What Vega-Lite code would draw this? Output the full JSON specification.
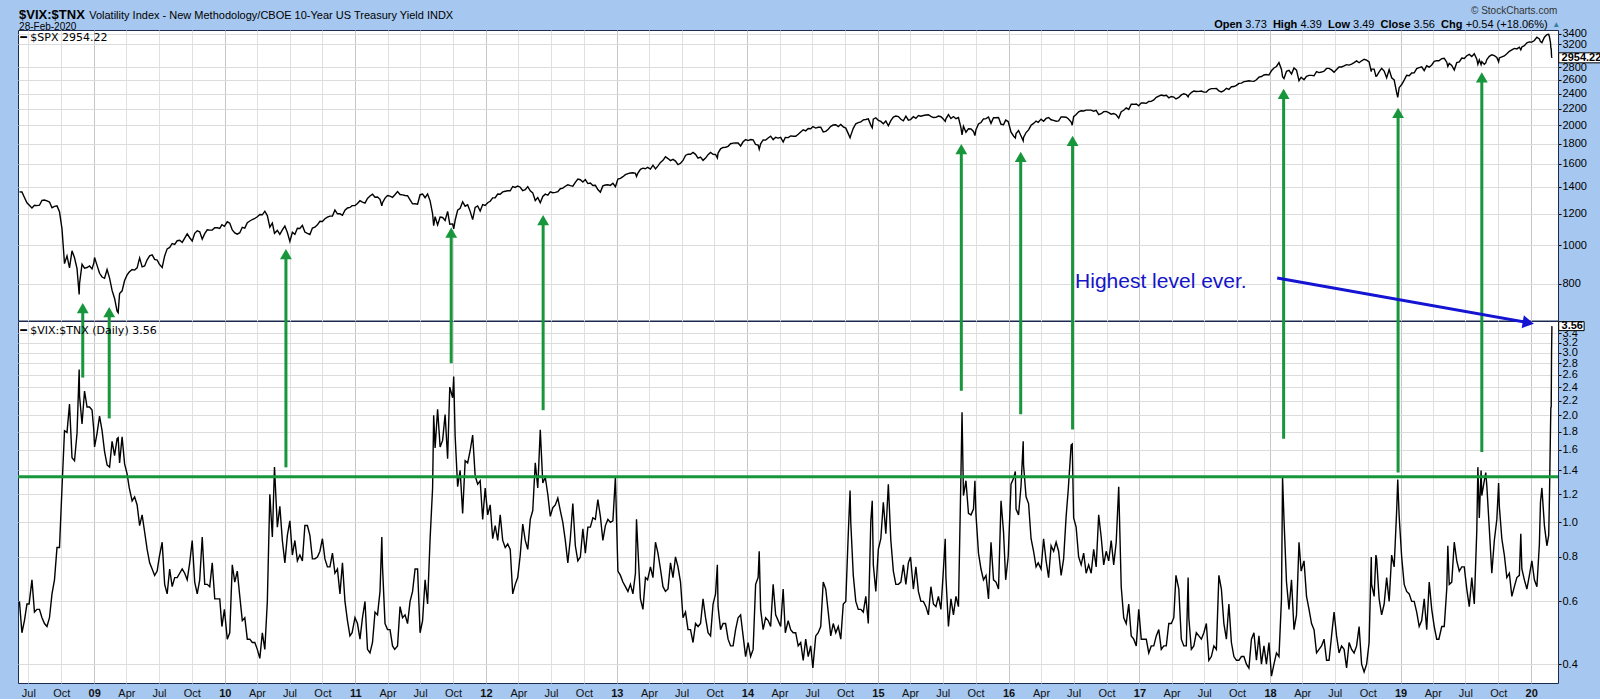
{
"$schema": "https://vega.github.io/schema/vega-lite/v6.json",
"background": "#A6C8F0",
"padding": {"left": 16, "top": 5, "right": 0, "bottom": 0},
"spacing": 0,
"bounds": "flush",
"config": {
  "view": {"stroke": "#1c2a50", "strokeWidth": 1, "fill": "white"},
  "axis": {"labelFont": "Liberation Sans", "labelFontSize": 11, "labelColor": "#000", "gridColor": "#dcdcdc", "gridWidth": 1, "domain": false, "tickColor": "#000"},
  "text": {"font": "Liberation Sans"},
  "concat": {"spacing": 0}
},
"datasets": {
"main": [
{"d":"2008-06-06","s":1361,"r":0.60},{"d":"2008-06-13","s":1360,"r":0.49},{"d":"2008-06-20","s":1318,"r":0.53},{"d":"2008-06-27","s":1278,"r":0.59},
{"d":"2008-07-03","s":1262,"r":0.59},{"d":"2008-07-11","s":1240,"r":0.69},{"d":"2008-07-18","s":1260,"r":0.56},{"d":"2008-07-25","s":1257,"r":0.57},
{"d":"2008-08-01","s":1260,"r":0.57},{"d":"2008-08-08","s":1296,"r":0.54},{"d":"2008-08-15","s":1298,"r":0.52},{"d":"2008-08-22","s":1292,"r":0.51},{"d":"2008-08-29","s":1283,"r":0.54},
{"d":"2008-09-05","s":1242,"r":0.63},{"d":"2008-09-12","s":1252,"r":0.69},{"d":"2008-09-19","s":1255,"r":0.85},{"d":"2008-09-26","s":1213,"r":0.85},
{"d":"2008-10-03","s":1099,"r":1.25},{"d":"2008-10-10","s":899,"r":1.81},{"d":"2008-10-17","s":940,"r":1.79},{"d":"2008-10-24","s":877,"r":2.15},{"d":"2008-10-31","s":968,"r":1.52},
{"d":"2008-11-07","s":930,"r":1.49},{"d":"2008-11-14","s":873,"r":1.78},{"d":"2008-11-20","s":752,"r":2.69},{"d":"2008-11-21","s":800,"r":2.27},{"d":"2008-11-28","s":896,"r":1.89},
{"d":"2008-12-05","s":876,"r":2.34},{"d":"2008-12-12","s":879,"r":2.11},{"d":"2008-12-19","s":887,"r":2.11},{"d":"2008-12-26","s":872,"r":2.07},{"d":"2008-12-31","s":903,"r":1.81},
{"d":"2009-01-02","s":931,"r":1.63},{"d":"2009-01-09","s":890,"r":1.78},{"d":"2009-01-16","s":850,"r":1.99},{"d":"2009-01-23","s":832,"r":1.81},{"d":"2009-01-30","s":826,"r":1.58},
{"d":"2009-02-06","s":869,"r":1.45},{"d":"2009-02-13","s":827,"r":1.43},{"d":"2009-02-20","s":770,"r":1.69},{"d":"2009-02-27","s":735,"r":1.54},
{"d":"2009-03-06","s":683,"r":1.72},{"d":"2009-03-09","s":677,"r":1.73},{"d":"2009-03-13","s":756,"r":1.47},{"d":"2009-03-20","s":768,"r":1.74},{"d":"2009-03-27","s":815,"r":1.46},
{"d":"2009-04-03","s":842,"r":1.37},{"d":"2009-04-09","s":856,"r":1.25},{"d":"2009-04-17","s":869,"r":1.15},{"d":"2009-04-24","s":866,"r":1.18},
{"d":"2009-05-01","s":877,"r":1.12},{"d":"2009-05-08","s":929,"r":0.98},{"d":"2009-05-15","s":882,"r":1.05},{"d":"2009-05-22","s":887,"r":0.94},{"d":"2009-05-29","s":919,"r":0.84},
{"d":"2009-06-05","s":940,"r":0.77},{"d":"2009-06-12","s":946,"r":0.74},{"d":"2009-06-19","s":921,"r":0.71},{"d":"2009-06-26","s":918,"r":0.73},
{"d":"2009-07-02","s":896,"r":0.80},{"d":"2009-07-10","s":879,"r":0.88},{"d":"2009-07-17","s":940,"r":0.67},{"d":"2009-07-24","s":979,"r":0.63},{"d":"2009-07-31","s":987,"r":0.74},
{"d":"2009-08-07","s":1010,"r":0.66},{"d":"2009-08-14","s":1005,"r":0.70},{"d":"2009-08-21","s":1026,"r":0.70},{"d":"2009-08-28","s":1029,"r":0.72},
{"d":"2009-09-04","s":1016,"r":0.74},{"d":"2009-09-11","s":1042,"r":0.72},{"d":"2009-09-18","s":1068,"r":0.69},{"d":"2009-09-25","s":1044,"r":0.77},
{"d":"2009-10-02","s":1025,"r":0.89},{"d":"2009-10-09","s":1071,"r":0.68},{"d":"2009-10-16","s":1087,"r":0.63},{"d":"2009-10-23","s":1080,"r":0.69},{"d":"2009-10-30","s":1036,"r":0.91},
{"d":"2009-11-06","s":1069,"r":0.67},{"d":"2009-11-13","s":1093,"r":0.67},{"d":"2009-11-20","s":1091,"r":0.66},{"d":"2009-11-27","s":1091,"r":0.77},
{"d":"2009-12-04","s":1106,"r":0.61},{"d":"2009-12-11","s":1106,"r":0.61},{"d":"2009-12-18","s":1102,"r":0.61},{"d":"2009-12-24","s":1126,"r":0.51},{"d":"2009-12-31","s":1115,"r":0.57},
{"d":"2010-01-08","s":1145,"r":0.47},{"d":"2010-01-15","s":1136,"r":0.49},{"d":"2010-01-22","s":1092,"r":0.76},{"d":"2010-01-29","s":1074,"r":0.68},
{"d":"2010-02-05","s":1066,"r":0.73},{"d":"2010-02-12","s":1075,"r":0.62},{"d":"2010-02-19","s":1109,"r":0.53},{"d":"2010-02-26","s":1104,"r":0.54},
{"d":"2010-03-05","s":1139,"r":0.47},{"d":"2010-03-12","s":1150,"r":0.47},{"d":"2010-03-19","s":1160,"r":0.46},{"d":"2010-03-26","s":1167,"r":0.46},
{"d":"2010-04-02","s":1179,"r":0.44},{"d":"2010-04-09","s":1194,"r":0.415},{"d":"2010-04-16","s":1192,"r":0.49},{"d":"2010-04-23","s":1217,"r":0.44},{"d":"2010-04-30","s":1187,"r":0.60},
{"d":"2010-05-07","s":1110,"r":1.20},{"d":"2010-05-14","s":1136,"r":0.91},{"d":"2010-05-20","s":1071,"r":1.43},{"d":"2010-05-28","s":1089,"r":0.97},
{"d":"2010-06-04","s":1065,"r":1.11},{"d":"2010-06-11","s":1092,"r":0.89},{"d":"2010-06-18","s":1117,"r":0.77},{"d":"2010-06-25","s":1076,"r":0.92},
{"d":"2010-07-02","s":1022,"r":1.01},{"d":"2010-07-09","s":1078,"r":0.81},{"d":"2010-07-16","s":1065,"r":0.89},{"d":"2010-07-23","s":1103,"r":0.78},{"d":"2010-07-30","s":1101,"r":0.81},
{"d":"2010-08-06","s":1121,"r":0.78},{"d":"2010-08-13","s":1079,"r":0.98},{"d":"2010-08-20","s":1071,"r":0.98},{"d":"2010-08-27","s":1064,"r":0.92},
{"d":"2010-09-03","s":1104,"r":0.79},{"d":"2010-09-10","s":1110,"r":0.79},{"d":"2010-09-17","s":1125,"r":0.80},{"d":"2010-09-24","s":1148,"r":0.83},
{"d":"2010-10-01","s":1147,"r":0.90},{"d":"2010-10-08","s":1165,"r":0.79},{"d":"2010-10-15","s":1176,"r":0.75},{"d":"2010-10-22","s":1183,"r":0.75},{"d":"2010-10-29","s":1183,"r":0.82},
{"d":"2010-11-05","s":1225,"r":0.72},{"d":"2010-11-12","s":1199,"r":0.74},{"d":"2010-11-19","s":1199,"r":0.63},{"d":"2010-11-26","s":1189,"r":0.77},
{"d":"2010-12-03","s":1224,"r":0.60},{"d":"2010-12-10","s":1240,"r":0.53},{"d":"2010-12-17","s":1244,"r":0.48},{"d":"2010-12-23","s":1257,"r":0.49},{"d":"2010-12-31","s":1258,"r":0.54},
{"d":"2011-01-07","s":1272,"r":0.52},{"d":"2011-01-14","s":1293,"r":0.47},{"d":"2011-01-21","s":1283,"r":0.54},{"d":"2011-01-28","s":1276,"r":0.60},
{"d":"2011-02-04","s":1310,"r":0.44},{"d":"2011-02-11","s":1329,"r":0.43},{"d":"2011-02-18","s":1343,"r":0.46},{"d":"2011-02-25","s":1320,"r":0.56},
{"d":"2011-03-04","s":1321,"r":0.55},{"d":"2011-03-11","s":1304,"r":0.64},{"d":"2011-03-16","s":1256,"r":0.91},{"d":"2011-03-18","s":1279,"r":0.75},{"d":"2011-03-25","s":1313,"r":0.52},
{"d":"2011-04-01","s":1332,"r":0.50},{"d":"2011-04-08","s":1328,"r":0.50},{"d":"2011-04-15","s":1319,"r":0.45},{"d":"2011-04-21","s":1337,"r":0.44},{"d":"2011-04-29","s":1363,"r":0.45},
{"d":"2011-05-06","s":1340,"r":0.58},{"d":"2011-05-13","s":1338,"r":0.54},{"d":"2011-05-20","s":1333,"r":0.55},{"d":"2011-05-27","s":1331,"r":0.52},
{"d":"2011-06-03","s":1300,"r":0.60},{"d":"2011-06-10","s":1270,"r":0.64},{"d":"2011-06-17","s":1271,"r":0.74},{"d":"2011-06-24","s":1268,"r":0.74},
{"d":"2011-07-01","s":1339,"r":0.49},{"d":"2011-07-08","s":1344,"r":0.53},{"d":"2011-07-15","s":1316,"r":0.69},{"d":"2011-07-22","s":1345,"r":0.59},{"d":"2011-07-29","s":1292,"r":0.90},
{"d":"2011-08-05","s":1199,"r":1.25},{"d":"2011-08-08","s":1119,"r":2.00},{"d":"2011-08-12","s":1179,"r":1.62},{"d":"2011-08-19","s":1124,"r":2.08},{"d":"2011-08-26","s":1177,"r":1.63},
{"d":"2011-09-02","s":1174,"r":1.70},{"d":"2011-09-09","s":1154,"r":2.01},{"d":"2011-09-16","s":1216,"r":1.51},{"d":"2011-09-22","s":1129,"r":2.40},{"d":"2011-09-30","s":1131,"r":2.24},
{"d":"2011-10-03","s":1099,"r":2.57},{"d":"2011-10-07","s":1155,"r":1.75},{"d":"2011-10-14","s":1224,"r":1.26},{"d":"2011-10-21","s":1238,"r":1.40},{"d":"2011-10-28","s":1285,"r":1.06},
{"d":"2011-11-04","s":1253,"r":1.49},{"d":"2011-11-11","s":1263,"r":1.47},{"d":"2011-11-18","s":1216,"r":1.59},{"d":"2011-11-25","s":1159,"r":1.76},
{"d":"2011-12-02","s":1244,"r":1.35},{"d":"2011-12-09","s":1255,"r":1.28},{"d":"2011-12-16","s":1219,"r":1.31},{"d":"2011-12-23","s":1265,"r":1.02},{"d":"2011-12-30","s":1258,"r":1.25},
{"d":"2012-01-06","s":1278,"r":1.05},{"d":"2012-01-13","s":1289,"r":1.12},{"d":"2012-01-20","s":1315,"r":0.90},{"d":"2012-01-27","s":1316,"r":0.98},
{"d":"2012-02-03","s":1344,"r":0.89},{"d":"2012-02-10","s":1342,"r":1.05},{"d":"2012-02-17","s":1361,"r":0.89},{"d":"2012-02-24","s":1366,"r":0.85},
{"d":"2012-03-02","s":1370,"r":0.87},{"d":"2012-03-09","s":1370,"r":0.84},{"d":"2012-03-16","s":1404,"r":0.63},{"d":"2012-03-23","s":1397,"r":0.67},{"d":"2012-03-30","s":1408,"r":0.70},
{"d":"2012-04-06","s":1398,"r":0.81},{"d":"2012-04-13","s":1370,"r":0.99},{"d":"2012-04-20","s":1378,"r":0.89},{"d":"2012-04-27","s":1403,"r":0.84},
{"d":"2012-05-04","s":1369,"r":1.02},{"d":"2012-05-11","s":1353,"r":1.08},{"d":"2012-05-18","s":1295,"r":1.47},{"d":"2012-05-25","s":1318,"r":1.25},
{"d":"2012-06-01","s":1278,"r":1.82},{"d":"2012-06-08","s":1325,"r":1.29},{"d":"2012-06-15","s":1343,"r":1.34},{"d":"2012-06-22","s":1335,"r":1.20},{"d":"2012-06-29","s":1362,"r":1.04},
{"d":"2012-07-06","s":1354,"r":1.10},{"d":"2012-07-13","s":1357,"r":1.12},{"d":"2012-07-20","s":1363,"r":1.17},{"d":"2012-07-27","s":1386,"r":1.08},
{"d":"2012-08-03","s":1391,"r":1.00},{"d":"2012-08-10","s":1406,"r":0.89},{"d":"2012-08-17","s":1418,"r":0.77},{"d":"2012-08-24","s":1411,"r":0.90},{"d":"2012-08-31","s":1407,"r":1.13},
{"d":"2012-09-07","s":1438,"r":0.86},{"d":"2012-09-14","s":1466,"r":0.78},{"d":"2012-09-21","s":1460,"r":0.80},{"d":"2012-09-28","s":1441,"r":0.96},
{"d":"2012-10-05","s":1461,"r":0.82},{"d":"2012-10-12","s":1428,"r":0.97},{"d":"2012-10-19","s":1433,"r":0.97},{"d":"2012-10-26","s":1412,"r":1.03},
{"d":"2012-11-02","s":1414,"r":1.02},{"d":"2012-11-09","s":1380,"r":1.16},{"d":"2012-11-16","s":1359,"r":1.04},{"d":"2012-11-23","s":1409,"r":0.89},{"d":"2012-11-30","s":1416,"r":0.98},
{"d":"2012-12-07","s":1418,"r":1.02},{"d":"2012-12-14","s":1413,"r":1.00},{"d":"2012-12-21","s":1430,"r":1.01},{"d":"2012-12-28","s":1402,"r":1.34},
{"d":"2013-01-04","s":1466,"r":0.73},{"d":"2013-01-11","s":1472,"r":0.71},{"d":"2013-01-18","s":1486,"r":0.68},{"d":"2013-01-25","s":1503,"r":0.66},
{"d":"2013-02-01","s":1513,"r":0.64},{"d":"2013-02-08","s":1518,"r":0.67},{"d":"2013-02-15","s":1520,"r":0.63},{"d":"2013-02-22","s":1515,"r":0.72},{"d":"2013-02-25","s":1488,"r":1.02},
{"d":"2013-03-01","s":1518,"r":0.84},{"d":"2013-03-08","s":1551,"r":0.61},{"d":"2013-03-15","s":1561,"r":0.57},{"d":"2013-03-22","s":1556,"r":0.70},{"d":"2013-03-28","s":1569,"r":0.69},
{"d":"2013-04-05","s":1553,"r":0.75},{"d":"2013-04-12","s":1588,"r":0.70},{"d":"2013-04-19","s":1555,"r":0.88},{"d":"2013-04-26","s":1582,"r":0.82},
{"d":"2013-05-03","s":1614,"r":0.74},{"d":"2013-05-10","s":1633,"r":0.66},{"d":"2013-05-17","s":1667,"r":0.64},{"d":"2013-05-24","s":1650,"r":0.65},{"d":"2013-05-31","s":1631,"r":0.77},
{"d":"2013-06-07","s":1643,"r":0.70},{"d":"2013-06-14","s":1626,"r":0.80},{"d":"2013-06-21","s":1593,"r":0.75},{"d":"2013-06-28","s":1606,"r":0.68},
{"d":"2013-07-05","s":1632,"r":0.54},{"d":"2013-07-12","s":1680,"r":0.56},{"d":"2013-07-19","s":1692,"r":0.50},{"d":"2013-07-26","s":1692,"r":0.50},
{"d":"2013-08-02","s":1710,"r":0.46},{"d":"2013-08-09","s":1691,"r":0.52},{"d":"2013-08-16","s":1655,"r":0.51},{"d":"2013-08-23","s":1664,"r":0.52},{"d":"2013-08-30","s":1633,"r":0.61},
{"d":"2013-09-06","s":1655,"r":0.54},{"d":"2013-09-13","s":1688,"r":0.49},{"d":"2013-09-20","s":1710,"r":0.48},{"d":"2013-09-27","s":1692,"r":0.59},
{"d":"2013-10-04","s":1690,"r":0.63},{"d":"2013-10-09","s":1656,"r":0.76},{"d":"2013-10-11","s":1703,"r":0.58},{"d":"2013-10-18","s":1745,"r":0.50},{"d":"2013-10-25","s":1759,"r":0.52},
{"d":"2013-11-01","s":1762,"r":0.52},{"d":"2013-11-08","s":1771,"r":0.47},{"d":"2013-11-15","s":1798,"r":0.45},{"d":"2013-11-22","s":1804,"r":0.45},{"d":"2013-11-29","s":1806,"r":0.50},
{"d":"2013-12-06","s":1805,"r":0.54},{"d":"2013-12-13","s":1775,"r":0.55},{"d":"2013-12-20","s":1818,"r":0.48},{"d":"2013-12-27","s":1841,"r":0.42},
{"d":"2014-01-03","s":1831,"r":0.46},{"d":"2014-01-10","s":1842,"r":0.42},{"d":"2014-01-17","s":1838,"r":0.44},{"d":"2014-01-24","s":1790,"r":0.67},{"d":"2014-01-31","s":1783,"r":0.70},
{"d":"2014-02-03","s":1742,"r":0.83},{"d":"2014-02-07","s":1797,"r":0.57},{"d":"2014-02-14","s":1838,"r":0.50},{"d":"2014-02-21","s":1836,"r":0.54},{"d":"2014-02-28","s":1859,"r":0.53},
{"d":"2014-03-07","s":1878,"r":0.51},{"d":"2014-03-14","s":1841,"r":0.67},{"d":"2014-03-21","s":1866,"r":0.55},{"d":"2014-03-28","s":1857,"r":0.53},
{"d":"2014-04-04","s":1865,"r":0.51},{"d":"2014-04-11","s":1816,"r":0.65},{"d":"2014-04-17","s":1864,"r":0.49},{"d":"2014-04-25","s":1863,"r":0.53},
{"d":"2014-05-02","s":1881,"r":0.50},{"d":"2014-05-09","s":1878,"r":0.49},{"d":"2014-05-16","s":1878,"r":0.49},{"d":"2014-05-23","s":1900,"r":0.45},{"d":"2014-05-30","s":1924,"r":0.46},
{"d":"2014-06-06","s":1949,"r":0.41},{"d":"2014-06-13","s":1937,"r":0.47},{"d":"2014-06-20","s":1963,"r":0.42},{"d":"2014-06-27","s":1961,"r":0.45},
{"d":"2014-07-03","s":1985,"r":0.39},{"d":"2014-07-11","s":1968,"r":0.48},{"d":"2014-07-18","s":1978,"r":0.49},{"d":"2014-07-25","s":1978,"r":0.51},
{"d":"2014-08-01","s":1925,"r":0.68},{"d":"2014-08-08","s":1931,"r":0.65},{"d":"2014-08-15","s":1955,"r":0.56},{"d":"2014-08-22","s":1988,"r":0.48},{"d":"2014-08-29","s":2003,"r":0.52},
{"d":"2014-09-05","s":2007,"r":0.49},{"d":"2014-09-12","s":1985,"r":0.51},{"d":"2014-09-19","s":2010,"r":0.47},{"d":"2014-09-26","s":1982,"r":0.59},
{"d":"2014-10-03","s":1968,"r":0.60},{"d":"2014-10-10","s":1906,"r":0.93},{"d":"2014-10-15","s":1862,"r":1.23},{"d":"2014-10-17","s":1887,"r":1.00},{"d":"2014-10-24","s":1965,"r":0.71},{"d":"2014-10-31","s":2018,"r":0.60},
{"d":"2014-11-07","s":2032,"r":0.57},{"d":"2014-11-14","s":2039,"r":0.57},{"d":"2014-11-21","s":2064,"r":0.56},{"d":"2014-11-28","s":2068,"r":0.62},
{"d":"2014-12-05","s":2075,"r":0.52},{"d":"2014-12-12","s":2002,"r":1.01},{"d":"2014-12-16","s":1972,"r":1.15},{"d":"2014-12-19","s":2071,"r":0.76},{"d":"2014-12-26","s":2089,"r":0.64},
{"d":"2015-01-02","s":2058,"r":0.84},{"d":"2015-01-09","s":2045,"r":0.90},{"d":"2015-01-16","s":2019,"r":1.14},{"d":"2015-01-23","s":2051,"r":0.93},{"d":"2015-01-30","s":1995,"r":1.28},
{"d":"2015-02-06","s":2055,"r":0.89},{"d":"2015-02-13","s":2097,"r":0.73},{"d":"2015-02-20","s":2110,"r":0.67},{"d":"2015-02-27","s":2104,"r":0.67},
{"d":"2015-03-06","s":2071,"r":0.68},{"d":"2015-03-13","s":2053,"r":0.76},{"d":"2015-03-20","s":2108,"r":0.67},{"d":"2015-03-27","s":2061,"r":0.77},
{"d":"2015-04-02","s":2067,"r":0.80},{"d":"2015-04-10","s":2102,"r":0.65},{"d":"2015-04-17","s":2081,"r":0.75},{"d":"2015-04-24","s":2117,"r":0.64},
{"d":"2015-05-01","s":2108,"r":0.60},{"d":"2015-05-08","s":2116,"r":0.60},{"d":"2015-05-15","s":2123,"r":0.58},{"d":"2015-05-22","s":2126,"r":0.55},{"d":"2015-05-29","s":2107,"r":0.66},
{"d":"2015-06-05","s":2092,"r":0.59},{"d":"2015-06-12","s":2094,"r":0.58},{"d":"2015-06-19","s":2110,"r":0.62},{"d":"2015-06-26","s":2102,"r":0.57},
{"d":"2015-07-02","s":2077,"r":0.71},{"d":"2015-07-08","s":2046,"r":0.90},{"d":"2015-07-10","s":2077,"r":0.70},{"d":"2015-07-17","s":2127,"r":0.51},{"d":"2015-07-24","s":2080,"r":0.61},{"d":"2015-07-31","s":2104,"r":0.55},
{"d":"2015-08-07","s":2078,"r":0.62},{"d":"2015-08-14","s":2092,"r":0.58},{"d":"2015-08-21","s":1971,"r":1.37},{"d":"2015-08-24","s":1893,"r":2.04},{"d":"2015-08-28","s":1989,"r":1.19},
{"d":"2015-09-04","s":1921,"r":1.31},{"d":"2015-09-11","s":1961,"r":1.06},{"d":"2015-09-18","s":1958,"r":1.05},{"d":"2015-09-25","s":1931,"r":1.09},{"d":"2015-09-29","s":1884,"r":1.31},
{"d":"2015-10-02","s":1951,"r":1.05},{"d":"2015-10-09","s":2015,"r":0.82},{"d":"2015-10-16","s":2033,"r":0.74},{"d":"2015-10-23","s":2075,"r":0.69},{"d":"2015-10-30","s":2079,"r":0.71},
{"d":"2015-11-06","s":2099,"r":0.61},{"d":"2015-11-13","s":2023,"r":0.88},{"d":"2015-11-20","s":2089,"r":0.69},{"d":"2015-11-27","s":2090,"r":0.68},
{"d":"2015-12-04","s":2092,"r":0.65},{"d":"2015-12-11","s":2012,"r":1.15},{"d":"2015-12-18","s":2006,"r":0.94},{"d":"2015-12-24","s":2061,"r":0.69},{"d":"2015-12-31","s":2044,"r":0.80},
{"d":"2016-01-08","s":1922,"r":1.28},{"d":"2016-01-15","s":1880,"r":1.33},{"d":"2016-01-20","s":1859,"r":1.39},{"d":"2016-01-22","s":1907,"r":1.09},{"d":"2016-01-29","s":1940,"r":1.05},
{"d":"2016-02-05","s":1880,"r":1.27},{"d":"2016-02-11","s":1829,"r":1.69},{"d":"2016-02-12","s":1865,"r":1.45},{"d":"2016-02-19","s":1918,"r":1.18},{"d":"2016-02-26","s":1948,"r":1.13},
{"d":"2016-03-04","s":2000,"r":0.90},{"d":"2016-03-11","s":2022,"r":0.83},{"d":"2016-03-18","s":2050,"r":0.75},{"d":"2016-03-24","s":2035,"r":0.77},
{"d":"2016-04-01","s":2073,"r":0.74},{"d":"2016-04-08","s":2048,"r":0.90},{"d":"2016-04-15","s":2081,"r":0.78},{"d":"2016-04-22","s":2092,"r":0.70},{"d":"2016-04-29","s":2065,"r":0.86},
{"d":"2016-05-06","s":2057,"r":0.83},{"d":"2016-05-13","s":2047,"r":0.88},{"d":"2016-05-20","s":2052,"r":0.83},{"d":"2016-05-27","s":2099,"r":0.71},
{"d":"2016-06-03","s":2099,"r":0.79},{"d":"2016-06-10","s":2096,"r":1.04},{"d":"2016-06-16","s":2077,"r":1.24},{"d":"2016-06-24","s":2037,"r":1.65},{"d":"2016-06-27","s":2001,"r":1.66},
{"d":"2016-07-01","s":2103,"r":1.03},{"d":"2016-07-08","s":2130,"r":0.97},{"d":"2016-07-15","s":2162,"r":0.80},{"d":"2016-07-22","s":2175,"r":0.76},{"d":"2016-07-29","s":2173,"r":0.82},
{"d":"2016-08-05","s":2183,"r":0.72},{"d":"2016-08-12","s":2184,"r":0.76},{"d":"2016-08-19","s":2184,"r":0.72},{"d":"2016-08-26","s":2169,"r":0.84},
{"d":"2016-09-02","s":2180,"r":0.75},{"d":"2016-09-09","s":2128,"r":1.05},{"d":"2016-09-16","s":2139,"r":0.91},{"d":"2016-09-23","s":2165,"r":0.76},{"d":"2016-09-30","s":2168,"r":0.83},
{"d":"2016-10-07","s":2153,"r":0.78},{"d":"2016-10-14","s":2133,"r":0.89},{"d":"2016-10-21","s":2141,"r":0.76},{"d":"2016-10-28","s":2126,"r":0.88},
{"d":"2016-11-04","s":2085,"r":1.26},{"d":"2016-11-11","s":2164,"r":0.66},{"d":"2016-11-18","s":2182,"r":0.54},{"d":"2016-11-25","s":2213,"r":0.52},
{"d":"2016-12-02","s":2192,"r":0.59},{"d":"2016-12-09","s":2259,"r":0.48},{"d":"2016-12-16","s":2258,"r":0.47},{"d":"2016-12-23","s":2263,"r":0.45},{"d":"2016-12-30","s":2239,"r":0.57},
{"d":"2017-01-06","s":2277,"r":0.47},{"d":"2017-01-13","s":2275,"r":0.47},{"d":"2017-01-20","s":2271,"r":0.47},{"d":"2017-01-27","s":2295,"r":0.43},
{"d":"2017-02-03","s":2297,"r":0.45},{"d":"2017-02-10","s":2316,"r":0.45},{"d":"2017-02-17","s":2351,"r":0.48},{"d":"2017-02-24","s":2367,"r":0.50},
{"d":"2017-03-03","s":2383,"r":0.44},{"d":"2017-03-10","s":2373,"r":0.45},{"d":"2017-03-17","s":2378,"r":0.45},{"d":"2017-03-24","s":2344,"r":0.52},{"d":"2017-03-31","s":2363,"r":0.52},
{"d":"2017-04-07","s":2355,"r":0.54},{"d":"2017-04-13","s":2329,"r":0.71},{"d":"2017-04-21","s":2349,"r":0.65},{"d":"2017-04-28","s":2384,"r":0.47},
{"d":"2017-05-05","s":2399,"r":0.45},{"d":"2017-05-12","s":2390,"r":0.45},{"d":"2017-05-17","s":2357,"r":0.70},{"d":"2017-05-19","s":2382,"r":0.54},{"d":"2017-05-26","s":2416,"r":0.44},
{"d":"2017-06-02","s":2439,"r":0.45},{"d":"2017-06-09","s":2432,"r":0.49},{"d":"2017-06-16","s":2433,"r":0.48},{"d":"2017-06-23","s":2438,"r":0.47},{"d":"2017-06-30","s":2423,"r":0.49},
{"d":"2017-07-07","s":2425,"r":0.52},{"d":"2017-07-14","s":2459,"r":0.41},{"d":"2017-07-21","s":2473,"r":0.42},{"d":"2017-07-28","s":2472,"r":0.45},
{"d":"2017-08-04","s":2476,"r":0.44},{"d":"2017-08-11","s":2441,"r":0.71},{"d":"2017-08-18","s":2426,"r":0.65},{"d":"2017-08-25","s":2443,"r":0.52},
{"d":"2017-09-01","s":2477,"r":0.47},{"d":"2017-09-08","s":2461,"r":0.59},{"d":"2017-09-15","s":2500,"r":0.46},{"d":"2017-09-22","s":2502,"r":0.42},{"d":"2017-09-29","s":2519,"r":0.41},
{"d":"2017-10-06","s":2549,"r":0.41},{"d":"2017-10-13","s":2553,"r":0.42},{"d":"2017-10-20","s":2575,"r":0.42},{"d":"2017-10-27","s":2581,"r":0.40},
{"d":"2017-11-03","s":2588,"r":0.39},{"d":"2017-11-10","s":2582,"r":0.47},{"d":"2017-11-17","s":2579,"r":0.49},{"d":"2017-11-24","s":2602,"r":0.41},
{"d":"2017-12-01","s":2642,"r":0.48},{"d":"2017-12-08","s":2652,"r":0.40},{"d":"2017-12-15","s":2675,"r":0.45},{"d":"2017-12-22","s":2683,"r":0.40},{"d":"2017-12-29","s":2674,"r":0.46},
{"d":"2018-01-05","s":2743,"r":0.37},{"d":"2018-01-12","s":2786,"r":0.40},{"d":"2018-01-19","s":2810,"r":0.43},{"d":"2018-01-26","s":2873,"r":0.42},
{"d":"2018-02-02","s":2762,"r":0.61},{"d":"2018-02-05","s":2649,"r":1.34},{"d":"2018-02-09","s":2620,"r":1.02},{"d":"2018-02-16","s":2732,"r":0.68},{"d":"2018-02-23","s":2747,"r":0.57},
{"d":"2018-03-02","s":2691,"r":0.69},{"d":"2018-03-09","s":2786,"r":0.50},{"d":"2018-03-16","s":2752,"r":0.55},{"d":"2018-03-23","s":2588,"r":0.88},{"d":"2018-03-29","s":2641,"r":0.73},
{"d":"2018-04-06","s":2604,"r":0.78},{"d":"2018-04-13","s":2656,"r":0.62},{"d":"2018-04-20","s":2670,"r":0.57},{"d":"2018-04-27","s":2670,"r":0.52},
{"d":"2018-05-04","s":2663,"r":0.50},{"d":"2018-05-11","s":2728,"r":0.43},{"d":"2018-05-18","s":2713,"r":0.44},{"d":"2018-05-25","s":2721,"r":0.45},
{"d":"2018-06-01","s":2735,"r":0.47},{"d":"2018-06-08","s":2779,"r":0.41},{"d":"2018-06-15","s":2780,"r":0.41},{"d":"2018-06-22","s":2755,"r":0.48},{"d":"2018-06-29","s":2718,"r":0.56},
{"d":"2018-07-06","s":2760,"r":0.48},{"d":"2018-07-13","s":2801,"r":0.43},{"d":"2018-07-20","s":2802,"r":0.45},{"d":"2018-07-27","s":2819,"r":0.44},
{"d":"2018-08-03","s":2840,"r":0.39},{"d":"2018-08-10","s":2833,"r":0.46},{"d":"2018-08-17","s":2850,"r":0.44},{"d":"2018-08-24","s":2875,"r":0.43},{"d":"2018-08-31","s":2902,"r":0.45},
{"d":"2018-09-07","s":2872,"r":0.51},{"d":"2018-09-14","s":2904,"r":0.40},{"d":"2018-09-21","s":2930,"r":0.38},{"d":"2018-09-28","s":2914,"r":0.40},
{"d":"2018-10-05","s":2885,"r":0.46},{"d":"2018-10-11","s":2729,"r":0.80},{"d":"2018-10-12","s":2767,"r":0.67},{"d":"2018-10-19","s":2768,"r":0.62},{"d":"2018-10-24","s":2656,"r":0.81},{"d":"2018-10-26","s":2658,"r":0.79},
{"d":"2018-11-02","s":2723,"r":0.61},{"d":"2018-11-09","s":2781,"r":0.55},{"d":"2018-11-16","s":2736,"r":0.59},{"d":"2018-11-23","s":2633,"r":0.70},{"d":"2018-11-30","s":2760,"r":0.60},
{"d":"2018-12-07","s":2633,"r":0.81},{"d":"2018-12-14","s":2600,"r":0.75},{"d":"2018-12-21","s":2417,"r":1.08},{"d":"2018-12-24","s":2351,"r":1.32},{"d":"2018-12-28","s":2486,"r":1.04},
{"d":"2019-01-04","s":2532,"r":0.80},{"d":"2019-01-11","s":2596,"r":0.67},{"d":"2019-01-18","s":2671,"r":0.64},{"d":"2019-01-25","s":2665,"r":0.63},
{"d":"2019-02-01","s":2707,"r":0.60},{"d":"2019-02-08","s":2708,"r":0.60},{"d":"2019-02-15","s":2776,"r":0.56},{"d":"2019-02-22","s":2793,"r":0.51},
{"d":"2019-03-01","s":2804,"r":0.53},{"d":"2019-03-08","s":2743,"r":0.61},{"d":"2019-03-15","s":2822,"r":0.50},{"d":"2019-03-22","s":2801,"r":0.68},{"d":"2019-03-29","s":2834,"r":0.57},
{"d":"2019-04-05","s":2893,"r":0.51},{"d":"2019-04-12","s":2907,"r":0.47},{"d":"2019-04-18","s":2905,"r":0.47},{"d":"2019-04-26","s":2940,"r":0.51},
{"d":"2019-05-03","s":2946,"r":0.51},{"d":"2019-05-10","s":2881,"r":0.65},{"d":"2019-05-13","s":2812,"r":0.86},{"d":"2019-05-17","s":2860,"r":0.67},{"d":"2019-05-24","s":2826,"r":0.68},{"d":"2019-05-31","s":2752,"r":0.88},
{"d":"2019-06-07","s":2873,"r":0.78},{"d":"2019-06-14","s":2887,"r":0.73},{"d":"2019-06-21","s":2950,"r":0.75},{"d":"2019-06-28","s":2942,"r":0.75},
{"d":"2019-07-05","s":2990,"r":0.65},{"d":"2019-07-12","s":3014,"r":0.58},{"d":"2019-07-19","s":2977,"r":0.70},{"d":"2019-07-26","s":3026,"r":0.59},
{"d":"2019-08-02","s":2932,"r":0.95},{"d":"2019-08-05","s":2845,"r":1.43},{"d":"2019-08-09","s":2919,"r":1.03},{"d":"2019-08-14","s":2840,"r":1.40},{"d":"2019-08-16","s":2889,"r":1.19},
{"d":"2019-08-23","s":2847,"r":1.31},{"d":"2019-08-27","s":2869,"r":1.38},{"d":"2019-08-30","s":2926,"r":1.27},
{"d":"2019-09-06","s":2979,"r":0.96},{"d":"2019-09-13","s":3007,"r":0.72},{"d":"2019-09-20","s":2992,"r":0.89},{"d":"2019-09-27","s":2962,"r":1.02},
{"d":"2019-10-02","s":2888,"r":1.29},{"d":"2019-10-04","s":2952,"r":1.11},{"d":"2019-10-11","s":2970,"r":0.90},{"d":"2019-10-18","s":2986,"r":0.81},{"d":"2019-10-25","s":3023,"r":0.70},
{"d":"2019-11-01","s":3067,"r":0.72},{"d":"2019-11-08","s":3093,"r":0.62},{"d":"2019-11-15","s":3120,"r":0.66},{"d":"2019-11-22","s":3110,"r":0.70},{"d":"2019-11-29","s":3141,"r":0.71},
{"d":"2019-12-03","s":3093,"r":0.93},{"d":"2019-12-06","s":3146,"r":0.74},{"d":"2019-12-13","s":3169,"r":0.69},{"d":"2019-12-20","s":3221,"r":0.65},{"d":"2019-12-27","s":3240,"r":0.71},
{"d":"2020-01-03","s":3235,"r":0.78},{"d":"2020-01-10","s":3265,"r":0.69},{"d":"2020-01-17","s":3330,"r":0.66},{"d":"2020-01-24","s":3295,"r":0.87},{"d":"2020-01-27","s":3244,"r":1.14},{"d":"2020-01-31","s":3226,"r":1.25},
{"d":"2020-02-07","s":3328,"r":0.98},{"d":"2020-02-14","s":3380,"r":0.86},{"d":"2020-02-19","s":3386,"r":0.92},{"d":"2020-02-21","s":3338,"r":1.16},
{"d":"2020-02-24","s":3226,"r":1.83},{"d":"2020-02-25","s":3128,"r":2.10},{"d":"2020-02-26","s":3116,"r":2.11},{"d":"2020-02-27","s":2979,"r":3.02},{"d":"2020-02-28","s":2954.22,"r":3.56}
],
"hdrBold": [
{"d":"2008-06-05","s":3795,"t":"$VIX:$TNX","fs":13},
{"d":"2017-07-29","s":3582,"t":"Open","fs":11},
{"d":"2018-01-09","s":3582,"t":"High","fs":11},
{"d":"2018-06-12","s":3582,"t":"Low","fs":11},
{"d":"2018-11-06","s":3582,"t":"Close","fs":11},
{"d":"2019-04-24","s":3582,"t":"Chg","fs":11}
],
"hdrNormal": [
{"d":"2008-12-18","s":3773,"t":"Volatility Index - New Methodology/CBOE 10-Year US Treasury Yield  INDX","fs":11},
{"d":"2008-06-05","s":3531,"t":"28-Feb-2020","fs":10},
{"d":"2017-10-24","s":3582,"t":"3.73","fs":11},
{"d":"2018-03-27","s":3582,"t":"4.39","fs":11},
{"d":"2018-08-21","s":3582,"t":"3.49","fs":11},
{"d":"2019-02-06","s":3582,"t":"3.56","fs":11},
{"d":"2019-07-02","s":3582,"t":"+0.54 (+18.06%)","fs":11}
],
"hdrTri": [{"d":"2020-02-29","s":3582,"t":"▲"}],
"hdrRight": [{"d":"2020-03-14","s":3862,"t":"© StockCharts.com"}],
"spxLabel": [{"d":"2008-06-08","s":3304,"t":"━ $SPX 2954.22"}],
"note": [{"d":"2016-07-05","s":810.6,"t":"Highest level ever."}],
"tagTopBox": [{"d":"2020-03-18","d2":"2020-07-18","s":2870,"s2":3041}],
"tagTopText": [{"d":"2020-03-26","s":2954.22,"t":"2954.22"}],
"greenLine": [{"d":"2008-06-02","d2":"2020-03-16","r":1.344}],
"arrows": [
{"d":"2008-11-30","r":2.552,"r2":4.00},
{"d":"2009-02-12","r":1.96,"r2":3.90},
{"d":"2010-06-21","r":1.428,"r2":5.676},
{"d":"2011-09-26","r":2.80,"r2":6.52},
{"d":"2012-06-09","r":2.067,"r2":7.07},
{"d":"2015-08-22","r":2.343,"r2":11.19},
{"d":"2016-02-04","r":2.013,"r2":10.63},
{"d":"2016-06-28","r":1.823,"r2":11.79},
{"d":"2018-02-08","r":1.718,"r2":15.98},
{"d":"2018-12-25","r":1.382,"r2":14.13},
{"d":"2019-08-16","r":1.577,"r2":17.78}
],
"arrowHeads": [
{"d":"2008-11-30","r":4.00},{"d":"2009-02-12","r":3.90},{"d":"2010-06-21","r":5.676},{"d":"2011-09-26","r":6.52},
{"d":"2012-06-09","r":7.07},{"d":"2015-08-22","r":11.19},{"d":"2016-02-04","r":10.63},{"d":"2016-06-28","r":11.79},
{"d":"2018-02-08","r":15.98},{"d":"2018-12-25","r":14.13},{"d":"2019-08-16","r":17.78}
],
"blueArrow": [{"d":"2018-01-21","r":4.86,"d2":"2019-12-24","r2":3.64}],
"blueHead": [{"d":"2019-12-24","r":3.64}],
"ratioLabel": [{"d":"2008-06-08","r":3.449,"t":"━ $VIX:$TNX (Daily) 3.56"}],
"tagBotBox": [{"d":"2020-03-18","d2":"2020-05-28","r":3.458,"r2":3.665}],
"tagBotText": [{"d":"2020-03-26","r":3.56,"t":"3.56"}]
},
"vconcat": [
{
 "width": 1540, "height": 290.5,
 "encoding": {
  "x": {"field": "d", "type": "temporal",
        "scale": {"domain": [{"year":2008,"month":6,"date":2},{"year":2020,"month":3,"date":16}], "nice": false},
        "axis": {"labels": false, "ticks": false, "tickSize": 0, "domain": false, "title": null, "grid": true,
                 "tickCount": {"interval": "month", "step": 3},
                 "gridColor": {"condition": {"test": "month(datum.value)===0", "value": "#c6c6c6"}, "value": "#e0e0e0"}}},
  "y": {"field": "s", "type": "quantitative",
        "scale": {"type": "log", "domain": [647, 3470], "nice": false},
        "axis": {"orient": "right", "title": null, "values": [800,1000,1200,1400,1600,1800,2000,2200,2400,2600,2800,3200,3400],
                 "format": "d", "tickSize": 3, "labelPadding": 1, "labelOverlap": false, "grid": true, "gridColor": "#dcdcdc"}}
 },
 "layer": [
  {"data": {"name": "main"}, "mark": {"type": "line", "color": "#000", "strokeWidth": 1.4}},
  {"data": {"name": "spxLabel"}, "mark": {"type": "text", "align": "left", "font": "DejaVu Sans", "fontSize": 11, "color": "#000"}, "encoding": {"text": {"field": "t"}}},
  {"data": {"name": "hdrBold"}, "mark": {"type": "text", "align": "left", "fontWeight": "bold", "color": "#000"}, "encoding": {"text": {"field": "t"}, "size": {"field": "fs", "type": "quantitative", "scale": null}}},
  {"data": {"name": "hdrNormal"}, "mark": {"type": "text", "align": "left", "color": "#000"}, "encoding": {"text": {"field": "t"}, "size": {"field": "fs", "type": "quantitative", "scale": null}}},
  {"data": {"name": "hdrTri"}, "mark": {"type": "text", "align": "left", "fontSize": 8, "color": "#2f7f9f"}, "encoding": {"text": {"field": "t"}}},
  {"data": {"name": "hdrRight"}, "mark": {"type": "text", "align": "right", "fontSize": 10, "color": "#333"}, "encoding": {"text": {"field": "t"}}},
  {"data": {"name": "note"}, "mark": {"type": "text", "align": "left", "fontSize": 21, "color": "#1414c8"}, "encoding": {"text": {"field": "t"}}},
  {"data": {"name": "tagTopBox"}, "mark": {"type": "rect", "fill": "white", "stroke": "#000", "strokeWidth": 1}, "encoding": {"x2": {"field": "d2"}, "y2": {"field": "s2"}}},
  {"data": {"name": "tagTopText"}, "mark": {"type": "text", "align": "left", "baseline": "middle", "fontWeight": "bold", "fontSize": 11, "color": "#000"}, "encoding": {"text": {"field": "t"}}}
 ]
},
{
 "width": 1540, "height": 362,
 "encoding": {
  "x": {"field": "d", "type": "temporal",
        "scale": {"domain": [{"year":2008,"month":6,"date":2},{"year":2020,"month":3,"date":16}], "nice": false},
        "axis": {"title": null, "ticks": false, "tickSize": 0, "domain": false, "grid": true, "labelPadding": 4,
                 "tickCount": {"interval": "month", "step": 3}, "labelOverlap": false, "labelFlush": false,
                 "labelExpr": "month(datum.value)===0 ? timeFormat(datum.value, '%y') : timeFormat(datum.value, '%b')",
                 "labelFontWeight": {"condition": {"test": "month(datum.value)===0", "value": "bold"}, "value": "normal"},
                 "labelColor": "#111",
                 "gridColor": {"condition": {"test": "month(datum.value)===0", "value": "#c6c6c6"}, "value": "#e0e0e0"}}},
  "y": {"field": "r", "type": "quantitative",
        "scale": {"type": "log", "domain": [0.354, 3.68], "nice": false},
        "axis": {"orient": "right", "title": null, "values": [0.4,0.6,0.8,1.0,1.2,1.4,1.6,1.8,2.0,2.2,2.4,2.6,2.8,3.0,3.2,3.4],
                 "format": ".1f", "tickSize": 3, "labelPadding": 1, "labelOverlap": false, "grid": true, "gridColor": "#dcdcdc"}}
 },
 "layer": [
  {"data": {"name": "main"}, "mark": {"type": "line", "color": "#000", "strokeWidth": 1.4}},
  {"data": {"name": "greenLine"}, "mark": {"type": "rule", "color": "#17963b", "strokeWidth": 3}, "encoding": {"x2": {"field": "d2"}}},
  {"data": {"name": "arrows"}, "mark": {"type": "rule", "color": "#17963b", "strokeWidth": 3}, "encoding": {"y2": {"field": "r2"}}},
  {"data": {"name": "arrowHeads"}, "mark": {"type": "point", "shape": "triangle-up", "filled": true, "color": "#17963b", "size": 140, "opacity": 1}},
  {"data": {"name": "blueArrow"}, "mark": {"type": "rule", "color": "#1414d2", "strokeWidth": 3}, "encoding": {"x2": {"field": "d2"}, "y2": {"field": "r2"}}},
  {"data": {"name": "blueHead"}, "mark": {"type": "point", "shape": "triangle-right", "filled": true, "color": "#1414d2", "size": 170, "angle": 9.8, "opacity": 1}},
  {"data": {"name": "ratioLabel"}, "mark": {"type": "text", "align": "left", "font": "DejaVu Sans", "fontSize": 11, "color": "#000"}, "encoding": {"text": {"field": "t"}}},
  {"data": {"name": "tagBotBox"}, "mark": {"type": "rect", "fill": "white", "stroke": "#000", "strokeWidth": 1}, "encoding": {"x2": {"field": "d2"}, "y2": {"field": "r2"}}},
  {"data": {"name": "tagBotText"}, "mark": {"type": "text", "align": "left", "baseline": "middle", "fontWeight": "bold", "fontSize": 11, "color": "#000"}, "encoding": {"text": {"field": "t"}}}
 ]
}
]
}
